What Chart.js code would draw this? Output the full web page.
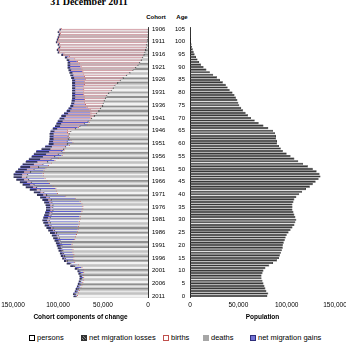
<!DOCTYPE html>
<html lang="en">
<head>
<meta charset="UTF-8">
<title>Cohort components of change</title>
<script src="https://cdn.jsdelivr.net/npm/chart.js"></script>
<style>
    body {
        margin: 0;
        width: 346px;
        height: 355px;
        position: relative;
        overflow: hidden;
        background: #fff;
        font-family: 'Liberation Sans', Arial, sans-serif;
        color: #000;
    }
    .title {
        position: absolute; left: 0; top: -3px; width: 178px;
        text-align: center;
        font: bold 10px/10px 'Liberation Serif', 'Times New Roman', serif;
    }
    .head {
        position: absolute; top: 13px;
        font-size: 6px; line-height: 8px; font-weight: bold;
        text-align: center;
    }
    #leftWrap { position: absolute; left: 0; top: 0; }
    #rightWrap { position: absolute; left: 150px; top: 0; }
    .legend-item {
        position: absolute; top: 333px;
        font-size: 7.5px; line-height: 9px; white-space: nowrap;
    }
    .box {
        display: inline-block; width: 4px; height: 4px;
        margin-right: 2px; vertical-align: -0.5px;
    }
    .box.persons { background: #fff; border: 1px solid #000; }
    .box.losses { background: repeating-linear-gradient(45deg, #333 0 1px, #888 1px 2px); border: 1px solid #333; }
    .box.births { background: #fff; border: 1px solid #c0504d; }
    .box.deaths { background: #a6a6a6; border: 1px solid #a6a6a6; }
    .box.gains { background: #7474d6; border: 1px solid #2e2e7a; }
</style>
</head>
<body>
<div class="title">31 December 2011</div>
<div class="head" style="left:140px;width:32px;">Cohort</div>
<div class="head" style="left:170px;width:24px;">Age</div>

<div id="leftWrap"><canvas id="leftChart" width="174" height="326"></canvas></div>
<div id="rightWrap"><canvas id="rightChart" width="196" height="326"></canvas></div>

<span class="legend-item" style="left:29px"><i class="box persons"></i>persons</span>
<span class="legend-item" style="left:81px"><i class="box losses"></i>net migration losses</span>
<span class="legend-item" style="left:163px"><i class="box births"></i>births</span>
<span class="legend-item" style="left:203px"><i class="box deaths"></i>deaths</span>
<span class="legend-item" style="left:250px"><i class="box gains"></i>net migration gains</span>

<script>
// values by single year of age, index 0 = age 0 ... index 105 = age 105
const ages = Array.from({ length: 106 }, (_, i) => i);
const censusYear = 2011;

const persons = [
    80000, 81000, 79000, 78000, 77000, 76000, 75000, 74000, 74000, 75000,
    76000, 78000, 82000, 86000, 90000, 92000, 93000, 94000, 95000, 96000,
    96000, 97000, 98000, 99000, 100000, 102000, 104000, 106000, 108000, 109000,
    110000, 109000, 108000, 107000, 106000, 106000, 106000, 107000, 108000, 110000,
    113000, 116000, 120000, 124000, 127000, 130000, 133000, 135000, 134000, 131000,
    127000, 122000, 117000, 112000, 108000, 104000, 100000, 96000, 94000, 92000,
    90000, 90000, 89000, 89000, 88000, 86000, 81000, 76000, 71000, 67000,
    63000, 60000, 57500, 55000, 53000, 51000, 50000, 49000, 47500, 46000,
    44000, 41000, 39000, 37000, 34000, 31000, 28000, 24000, 20500, 17000,
    14000, 11500, 9500, 7800, 6200, 4800, 3800, 2900, 2200, 1600,
    1100, 750, 450, 280, 160, 100
];

const deaths = [
    400, 500, 500, 500, 500, 500, 500, 500, 500, 600,
    600, 600, 700, 800, 900, 1000, 1000, 1000, 1000, 1000,
    1200, 1300, 1400, 1500, 1600, 1700, 1800, 1900, 2000, 2100,
    2200, 2300, 2400, 2500, 2600, 2700, 2800, 2900, 3000, 3200,
    3400, 3600, 3800, 4000, 4300, 4600, 5000, 5400, 6000, 6800,
    7800, 9000, 10000, 11000, 12000, 13000, 13500, 14000, 14500, 15000,
    15000, 15500, 16000, 16000, 17000, 18000, 20000, 22000, 25500, 28000,
    30000, 31500, 31500, 31500, 32000, 32000, 32000, 32500, 33500, 35000,
    37000, 40000, 42000, 44000, 47000, 50000, 54000, 59000, 63500, 68500,
    72500, 75000, 77000, 79700, 83800, 89700, 95200, 97100, 95800, 97400,
    99900, 99250, 98550, 97720, 98840, 96900
];

const netMigrationLosses = [
    2100, 1500, 1500, 1500, 1100, 1100, 1100, 1300, 1300, 1400,
    1400, 2400, 3300, 3200, 2100, 2000, 2500, 2500, 3000, 3000,
    3800, 3700, 4100, 4500, 4900, 4800, 4700, 4600, 4500, 4900,
    4800, 4700, 4600, 4500, 4400, 4300, 4700, 5100, 6000, 6300,
    6600, 6900, 7200, 7500, 7700, 7400, 8000, 8600, 9000, 9200,
    9200, 10500, 12000, 12500, 12000, 12000, 13000, 14000, 9500, 7000,
    5000, 4000, 4000, 4000, 4000, 4000, 4500, 5000, 5000, 5000,
    5000, 4500, 4000, 3500, 3000, 3000, 3000, 3000, 3000, 3000,
    3000, 3000, 3000, 3000, 3000, 3000, 3000, 3000, 3000, 2500,
    2500, 2500, 2500, 2500, 2000, 1500, 1000, 1000, 1000, 1000,
    1000, 1000, 1000, 1000, 1000, 1000
];

const births = [
    79000, 78000, 77000, 75000, 74000, 73000, 72000, 72000, 72000, 72000,
    72000, 74000, 78000, 82000, 83000, 83000, 83000, 84000, 84000, 85000,
    85000, 84000, 82000, 81000, 80000, 79000, 78000, 78000, 77000, 77000,
    76000, 76000, 75000, 74000, 73000, 73000, 74000, 76000, 81000, 92000,
    101000, 102000, 103000, 106000, 110000, 112000, 115000, 117000, 117000, 116000,
    114000, 111000, 108000, 104000, 100000, 96000, 94000, 94000, 92000, 88000,
    84000, 86000, 88000, 89000, 90000, 90000, 78000, 68000, 66000, 65000,
    64000, 64000, 64000, 65000, 68000, 70000, 71000, 71000, 71000, 72000,
    72000, 72000, 72000, 71000, 71000, 70000, 71000, 72000, 73000, 74000,
    75000, 77000, 79000, 82000, 88000, 94000, 99000, 100000, 98000, 99000,
    101000, 100000, 99000, 98000, 99000, 97000
];

const netMigrationGains = [
    3500, 5000, 4000, 5000, 4600, 4600, 4600, 3800, 3800, 5000,
    6000, 7000, 8000, 8000, 10000, 12000, 13500, 13500, 15000, 15000,
    16000, 18000, 21500, 24000, 26500, 29500, 32500, 34500, 37500, 39000,
    41000, 40000, 40000, 40000, 40000, 40000, 39500, 39000, 36000, 27500,
    22000, 24500, 28000, 29500, 29000, 30000, 31000, 32000, 32000, 31000,
    30000, 30500, 31000, 31500, 32000, 33000, 32500, 30000, 26000, 26000,
    26000, 23500, 21000, 20000, 19000, 18000, 27500, 35000, 35500, 35000,
    34000, 32000, 29000, 25000, 20000, 16000, 14000, 13500, 13000, 12000,
    12000, 12000, 12000, 13000, 13000, 14000, 14000, 14000, 14000, 14000,
    14000, 12000, 10000, 8000, 4000, 2000, 1000, 1000, 1000, 1000,
    1000, 1000, 1000, 1000, 1000, 1000
];

const xMax = 150000;
const xStep = 50000;

// chart rows run from the oldest (top) to age 0 (bottom)
const rowAges = ages.slice().reverse();
const rows = arr => arr.slice().reverse();
const cohortLabels = rowAges.map(a => String(censusYear - a));
const ageLabels = rowAges.map(a => String(a));

const FONT = "'Liberation Sans', Arial, sans-serif";
Chart.defaults.font.family = FONT;
Chart.defaults.color = '#000';

function everyFifth(value, index) {
    return rowAges[index] % 5 === 0 ? this.getLabelForValue(value) : '';
}

function xAxis(reverse, title) {
    return {
        stacked: true,
        reverse: reverse,
        min: 0,
        max: xMax,
        grid: { display: false, drawTicks: false },
        border: { display: false },
        ticks: {
            stepSize: xStep,
            maxRotation: 0,
            padding: 4,
            font: { size: 6.5 },
            callback: v => v.toLocaleString('en-US')
        },
        title: {
            display: true,
            text: title,
            font: { size: 6.5, weight: 'bold' },
            padding: { top: 0, bottom: 5 }
        },
        afterFit: s => { s.height = 28.7; s.paddingLeft = 0; s.paddingRight = 0; }
    };
}

const bar = { categoryPercentage: 1, borderSkipped: 'start' };

new Chart(document.getElementById('leftChart'), {
    type: 'bar',
    data: {
        labels: cohortLabels,
        datasets: [
            // front: births (outline end) + net migration gains
            Object.assign({
                label: 'births', data: rows(births), yAxisID: 'y2', order: 0,
                backgroundColor: 'rgba(0,0,0,0)', borderColor: '#c0504d',
                borderWidth: { left: 0.9, top: 0, right: 0, bottom: 0 }, barPercentage: 0.95
            }, bar),
            Object.assign({
                label: 'net migration gains', data: rows(netMigrationGains), yAxisID: 'y2', order: 0,
                backgroundColor: '#5e5ed2', borderColor: '#2e2e7a',
                borderWidth: { left: 0.5, top: 0, right: 0, bottom: 0 }, barPercentage: 0.75
            }, bar),
            // back: persons + deaths + net migration losses
            Object.assign({
                label: 'persons', data: rows(persons), yAxisID: 'y', order: 1,
                backgroundColor: '#ffffff', borderColor: '#3a3a3a',
                borderWidth: { left: 0.8, top: 0.6, bottom: 0.6, right: 0 }, barPercentage: 1
            }, bar),
            Object.assign({
                label: 'deaths', data: rows(deaths), yAxisID: 'y', order: 1,
                backgroundColor: '#d69ca5', borderColor: '#9a7a80',
                borderWidth: { left: 0, top: 0.6, bottom: 0.6, right: 0 }, barPercentage: 1
            }, bar),
            Object.assign({
                label: 'net migration losses', data: rows(netMigrationLosses), yAxisID: 'y', order: 1,
                backgroundColor: '#34345a', borderWidth: 0, barPercentage: 1
            }, bar)
        ]
    },
    options: {
        indexAxis: 'y',
        responsive: false,
        animation: false,
        layout: { padding: { left: 13, top: 27.7, right: 0, bottom: 0 } },
        plugins: { legend: { display: false }, tooltip: { enabled: false } },
        scales: {
            x: xAxis(true, 'Cohort components of change'),
            y: {
                type: 'category',
                position: 'right',
                stacked: true,
                offset: true,
                grid: { display: false, drawTicks: false, offset: true },
                border: { display: true, color: '#000', width: 0.8 },
                ticks: { autoSkip: false, padding: 4, font: { size: 6 }, callback: everyFifth },
                afterFit: s => { s.width = 26; s.paddingTop = 0; s.paddingBottom = 0; }
            },
            y2: { type: 'category', display: false, stacked: true, offset: true, grid: { offset: true } }
        }
    }
});

new Chart(document.getElementById('rightChart'), {
    type: 'bar',
    data: {
        labels: ageLabels,
        datasets: [{
            label: 'Population',
            data: rows(persons),
            backgroundColor: '#383838',
            borderColor: '#000000',
            borderWidth: 0.5,
            barPercentage: 0.85,
            categoryPercentage: 1
        }]
    },
    options: {
        indexAxis: 'y',
        responsive: false,
        animation: false,
        layout: { padding: { left: 10, top: 27.7, right: 11, bottom: 0 } },
        plugins: { legend: { display: false }, tooltip: { enabled: false } },
        scales: {
            x: xAxis(false, 'Population'),
            y: {
                type: 'category',
                position: 'left',
                offset: true,
                grid: { display: false, drawTicks: false, offset: true },
                border: { display: true, color: '#000', width: 0.8 },
                ticks: { autoSkip: false, padding: 5, font: { size: 6 }, callback: everyFifth },
                afterFit: s => { s.width = 30; s.paddingTop = 0; s.paddingBottom = 0; }
            }
        }
    }
});
</script>
</body>
</html>
